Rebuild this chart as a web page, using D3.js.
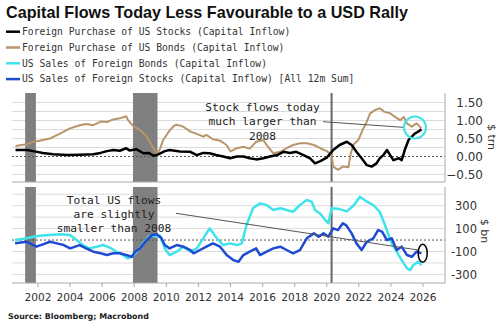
<!DOCTYPE html>
<html>
<head>
<meta charset="utf-8">
<script src="https://cdn.jsdelivr.net/npm/d3@7"></script>
<style>
  body { margin: 0; background: #fff; }
  svg { display: block; }
</style>
</head>
<body>
<div id="chart"></div>
<script>
// [decimal year, value]
const stocksIn = [[2000.6,0.18],[2001.3,0.18],[2001.7,0.15],[2002.3,0.1],[2002.95,0.06],[2003.8,0.04],[2004.6,0.05],[2005.45,0.06],[2005.9,0.1],[2006.3,0.15],[2006.7,0.18],[2007.1,0.16],[2007.5,0.23],[2007.7,0.17],[2008.15,0.2],[2008.57,0.09],[2008.9,0.1],[2009.2,0.02],[2009.5,0.06],[2009.9,0.15],[2010.2,0.18],[2010.85,0.14],[2011.5,0.13],[2011.9,0.04],[2012.3,0.1],[2012.7,0.09],[2013.1,0.04],[2013.55,0.0],[2013.97,-0.05],[2014.4,0.0],[2014.8,0.0],[2015.2,-0.05],[2015.6,-0.08],[2016.05,-0.05],[2016.46,0.0],[2016.9,0.04],[2017.3,0.13],[2017.7,0.1],[2018.1,0.13],[2018.55,0.04],[2018.96,-0.05],[2019.27,-0.19],[2019.6,-0.13],[2020.0,-0.03],[2020.4,0.18],[2020.8,0.32],[2021.25,0.41],[2021.55,0.32],[2021.85,0.13],[2022.17,-0.05],[2022.5,-0.24],[2022.8,-0.28],[2023.1,-0.19],[2023.3,-0.05],[2023.53,0.04],[2023.75,0.18],[2023.95,0.04],[2024.15,-0.1],[2024.5,-0.05],[2024.67,-0.1],[2024.9,0.23],[2025.1,0.46],[2025.3,0.55],[2025.5,0.64],[2025.7,0.69],[2025.9,0.76]];

const bondsIn = [[2000.6,0.29],[2001.3,0.34],[2001.7,0.41],[2002.1,0.44],[2002.75,0.5],[2003.4,0.64],[2004.0,0.78],[2004.6,0.87],[2005.0,0.9],[2005.45,0.87],[2005.9,0.97],[2006.3,0.96],[2006.7,1.03],[2007.1,1.06],[2007.5,1.12],[2007.6,1.02],[2007.95,0.84],[2008.36,0.74],[2008.78,0.55],[2009.2,0.23],[2009.4,0.06],[2009.6,0.2],[2009.8,0.46],[2010.2,0.72],[2010.5,0.86],[2010.65,0.88],[2011.05,0.83],[2011.5,0.69],[2011.9,0.63],[2012.3,0.55],[2012.5,0.6],[2012.9,0.48],[2013.35,0.44],[2013.75,0.32],[2014.0,0.14],[2014.4,0.23],[2014.8,0.27],[2015.2,0.22],[2015.6,0.41],[2016.05,0.46],[2016.25,0.32],[2016.67,0.09],[2017.1,0.13],[2017.5,0.23],[2017.9,0.32],[2018.33,0.37],[2018.75,0.37],[2019.2,0.32],[2019.6,0.23],[2020.0,0.15],[2020.3,0.04],[2020.4,-0.28],[2020.7,-0.37],[2021.0,-0.28],[2021.35,-0.3],[2021.5,0.1],[2021.7,0.35],[2021.97,0.46],[2022.28,0.78],[2022.5,0.97],[2022.7,1.2],[2023.0,1.29],[2023.3,1.34],[2023.6,1.24],[2023.95,1.2],[2024.25,1.1],[2024.57,1.01],[2024.8,1.1],[2025.0,0.92],[2025.3,0.83],[2025.6,0.92],[2025.8,0.83],[2025.9,0.78]];

const bondsOut = [[2000.57,0],[2001.3,15],[2001.7,29],[2002.1,38],[2002.75,44],[2003.4,50],[2004.0,44],[2004.4,0],[2004.8,-44],[2005.2,-73],[2005.66,-58],[2006.07,-44],[2006.5,-67],[2006.9,-102],[2007.3,-131],[2007.6,-160],[2007.85,-146],[2008.15,-102],[2008.57,-29],[2008.9,29],[2009.1,44],[2009.4,29],[2009.6,40],[2009.9,-73],[2010.2,-131],[2010.65,-102],[2011.06,-58],[2011.5,-102],[2011.9,-73],[2012.3,15],[2012.7,102],[2013.15,15],[2013.55,-44],[2013.97,-29],[2014.4,-44],[2014.7,-29],[2015.0,131],[2015.4,277],[2015.84,320],[2016.25,306],[2016.67,262],[2017.1,277],[2017.5,262],[2017.9,247],[2018.33,306],[2018.75,349],[2019.06,335],[2019.27,262],[2019.6,230],[2019.9,175],[2020.1,146],[2020.3,277],[2020.8,270],[2021.25,250],[2021.7,306],[2022.07,378],[2022.5,335],[2022.9,306],[2023.3,247],[2023.63,131],[2023.85,44],[2024.05,-29],[2024.36,-102],[2024.67,-175],[2025.0,-247],[2025.2,-262],[2025.4,-218],[2025.7,-189],[2025.9,-218]];

const stocksOut = [[2000.57,-29],[2001.3,-15],[2001.9,-58],[2002.3,-38],[2002.75,-15],[2003.17,-29],[2003.6,-44],[2004.0,-73],[2004.6,-44],[2005.0,-73],[2005.45,-102],[2005.9,-116],[2006.3,-131],[2006.7,-116],[2007.1,-116],[2007.5,-131],[2007.85,-146],[2008.05,-102],[2008.36,-73],[2008.78,0],[2009.1,44],[2009.4,50],[2009.7,15],[2009.9,-44],[2010.2,-73],[2010.65,-44],[2011.06,-58],[2011.5,-87],[2011.7,-116],[2012.1,-87],[2012.5,-58],[2012.9,-29],[2013.35,-58],[2013.76,-131],[2014.17,-175],[2014.5,-189],[2014.8,-131],[2015.2,-102],[2015.6,-73],[2015.84,-131],[2016.25,-102],[2016.67,-73],[2017.1,-58],[2017.5,-87],[2017.9,-116],[2018.33,-87],[2018.75,15],[2019.2,58],[2019.5,29],[2019.8,58],[2020.1,29],[2020.4,102],[2020.7,87],[2021.0,146],[2021.2,131],[2021.55,58],[2021.85,-29],[2022.17,-87],[2022.5,-15],[2022.9,15],[2023.2,87],[2023.45,73],[2023.75,0],[2024.05,15],[2024.36,-87],[2024.67,-58],[2025.0,-131],[2025.3,-146],[2025.6,-102],[2025.9,-116]];

const recessions = [[2001.2, 2001.87], [2007.92, 2009.45]];
const covidLine = 2020.3;

const xTicks = [2002, 2004, 2006, 2008, 2010, 2012, 2014, 2016, 2018, 2020, 2022, 2024, 2026];
const topTicks = [1.5, 1.0, 0.5, 0.0, -0.5];
const topGrid = [-0.5, -0.25, 0.25, 0.5, 0.75, 1.0, 1.25, 1.5];
const botTicks = [300, 100, -100, -300];
const botGrid = [-300, -200, -100, 100, 200, 300, 400];

const legendNames = [
  "Foreign Purchase of US Stocks (Capital Inflow)",
  "Foreign Purchase of US Bonds (Capital Inflow)",
  "US Sales of Foreign Bonds (Capital Inflow)",
  "US Sales of Foreign Stocks (Capital Inflow) [All 12m Sum]"
];
const colors = ["#000000", "#b8956a", "#3fe3ea", "#1f4bd3"];

const width = 500, height = 329;
const svg = d3.select("#chart").append("svg")
  .attr("width", width).attr("height", height);
svg.append("rect").attr("width", width).attr("height", height).attr("fill", "#fff");

const x = d3.scaleLinear().domain([2000.38, 2027.37]).range([12, 445]);
const yTop = d3.scaleLinear().domain([-0.708, 1.764]).range([182, 93]);
const yBot = d3.scaleLinear().domain([-375, 463]).range([283, 187]);

function fitWidth(sel, w) {
  let fs = parseFloat(sel.attr("font-size"));
  let len = sel.node().getComputedTextLength();
  sel.attr("font-size", (fs * w / len).toFixed(2));
}

// title
let title = svg.append("text")
  .attr("x", 6).attr("y", 17.5)
  .attr("font-family", "Liberation Sans, Arial, sans-serif")
  .attr("font-weight", "bold").attr("font-size", 14)
  .attr("fill", "#111")
  .text("Capital Flows Today Less Favourable to a USD Rally");
fitWidth(title, 402);

// legend
const legend = svg.append("g");
legendNames.forEach((name, i) => {
  let cy = 31.7 + i * 15.8;
  legend.append("line")
    .attr("x1", 6).attr("x2", 20).attr("y1", cy).attr("y2", cy)
    .attr("stroke", colors[i]).attr("stroke-width", 2.5);
  legend.append("text")
    .attr("x", 22).attr("y", cy).attr("dy", "0.35em")
    .attr("font-family", "DejaVu Sans Mono, monospace")
    .attr("font-size", 9.7).attr("fill", "#333")
    .text(name);
});

function panel(yScale, grid, zeroLine, top, bottom) {
  const g = svg.append("g");
  g.selectAll(".grid").data(grid).enter().append("line")
    .attr("x1", 12).attr("x2", 445)
    .attr("y1", d => yScale(d)).attr("y2", d => yScale(d))
    .attr("stroke", "#dcdcdc").attr("stroke-width", 1);
  g.selectAll(".rec").data(recessions).enter().append("rect")
    .attr("x", d => x(d[0])).attr("width", d => x(d[1]) - x(d[0]))
    .attr("y", top).attr("height", bottom - top)
    .attr("fill", "#808080");
  g.append("line")
    .attr("x1", x(covidLine)).attr("x2", x(covidLine))
    .attr("y1", top).attr("y2", bottom)
    .attr("stroke", "#666").attr("stroke-width", 2);
  g.append("line")
    .attr("x1", 12).attr("x2", 445)
    .attr("y1", yScale(0)).attr("y2", yScale(0))
    .attr("stroke", "#555").attr("stroke-width", 1)
    .attr("stroke-dasharray", "2,2");
  // frame: bottom and right
  g.append("line").attr("x1", 12).attr("x2", 445).attr("y1", bottom).attr("y2", bottom)
    .attr("stroke", "#aaa").attr("stroke-width", 1);
  g.append("line").attr("x1", 445).attr("x2", 445).attr("y1", top).attr("y2", bottom)
    .attr("stroke", "#aaa").attr("stroke-width", 1);
  return g;
}

const gTop = panel(yTop, topGrid, true, 93, 182);
const gBot = panel(yBot, botGrid, true, 187, 283);

const lineTop = d3.line().x(d => x(d[0])).y(d => yTop(d[1]));
const lineBot = d3.line().x(d => x(d[0])).y(d => yBot(d[1]));

gTop.append("path").datum(bondsIn).attr("d", lineTop)
  .attr("fill", "none").attr("stroke", colors[1]).attr("stroke-width", 2)
  .attr("stroke-linejoin", "round");
gTop.append("path").datum(stocksIn).attr("d", lineTop)
  .attr("fill", "none").attr("stroke", colors[0]).attr("stroke-width", 2.5)
  .attr("stroke-linejoin", "round");

gBot.append("path").datum(bondsOut).attr("d", lineBot)
  .attr("fill", "none").attr("stroke", colors[2]).attr("stroke-width", 2.5)
  .attr("stroke-linejoin", "round");
gBot.append("path").datum(stocksOut).attr("d", lineBot)
  .attr("fill", "none").attr("stroke", colors[3]).attr("stroke-width", 2.5)
  .attr("stroke-linejoin", "round");

// right axes
const fmt = d3.format(".2f");
svg.append("g").selectAll("text").data(topTicks).enter().append("text")
  .attr("x", 483).attr("y", d => yTop(d)).attr("dy", "0.36em")
  .attr("text-anchor", "end")
  .attr("font-family", "DejaVu Sans, Verdana, sans-serif")
  .attr("font-size", 12).attr("fill", "#333")
  .text(d => fmt(d));
svg.append("g").selectAll("text").data(botTicks).enter().append("text")
  .attr("x", 477).attr("y", d => yBot(d)).attr("dy", "0.36em")
  .attr("text-anchor", "end")
  .attr("font-family", "DejaVu Sans, Verdana, sans-serif")
  .attr("font-size", 11.5).attr("fill", "#333")
  .text(d => d);

svg.append("text")
  .attr("transform", "translate(488,137) rotate(90)")
  .attr("text-anchor", "middle")
  .attr("font-family", "DejaVu Sans, Verdana, sans-serif")
  .attr("font-size", 11).attr("fill", "#333")
  .text("$ trn");
svg.append("text")
  .attr("transform", "translate(481,231) rotate(90)")
  .attr("text-anchor", "middle")
  .attr("font-family", "DejaVu Sans, Verdana, sans-serif")
  .attr("font-size", 11).attr("fill", "#333")
  .text("$ bn");

// x axis
const xAxis = svg.append("g");
xAxis.selectAll("line").data(xTicks).enter().append("line")
  .attr("x1", d => x(d)).attr("x2", d => x(d))
  .attr("y1", 283).attr("y2", 287)
  .attr("stroke", "#aaa");
xAxis.selectAll("text").data(xTicks).enter().append("text")
  .attr("x", d => x(d)).attr("y", 301)
  .attr("text-anchor", "middle")
  .attr("font-family", "DejaVu Sans, Verdana, sans-serif")
  .attr("font-size", 10.6).attr("fill", "#333")
  .text(d => d);

// annotations
const annFont = "DejaVu Sans Mono, monospace";
const topNote = ["Stock flows today", "much larger than", "2008"];
svg.append("g").selectAll("text").data(topNote).enter().append("text")
  .attr("x", 262.5).attr("y", (d, i) => 111 + i * 14.4)
  .attr("text-anchor", "middle")
  .attr("font-family", annFont).attr("font-size", 11.2).attr("fill", "#222")
  .text(d => d);
svg.append("line")
  .attr("x1", 323).attr("y1", 121.7).attr("x2", 403).attr("y2", 127.3)
  .attr("stroke", "#555").attr("stroke-width", 1);
svg.append("circle")
  .attr("cx", 415).attr("cy", 127.5).attr("r", 11)
  .attr("fill", "none").attr("stroke", "#3fe3ea").attr("stroke-width", 2);

const botNote = ["Total US flows", "are slightly", "smaller than 2008"];
svg.append("g").selectAll("text").data(botNote).enter().append("text")
  .attr("x", 114).attr("y", (d, i) => 203.5 + i * 14.4)
  .attr("text-anchor", "middle")
  .attr("font-family", annFont).attr("font-size", 11.2).attr("fill", "#222")
  .text(d => d);
svg.append("line")
  .attr("x1", 176).attr("y1", 213.3).attr("x2", 418).attr("y2", 250)
  .attr("stroke", "#555").attr("stroke-width", 1);
svg.append("ellipse")
  .attr("cx", 422.7).attr("cy", 253.3).attr("rx", 4.5).attr("ry", 9)
  .attr("fill", "none").attr("stroke", "#000").attr("stroke-width", 1.5);

// source
let src = svg.append("text")
  .attr("x", 8).attr("y", 319)
  .attr("font-family", "DejaVu Sans, Verdana, sans-serif")
  .attr("font-weight", "bold").attr("font-size", 8)
  .attr("fill", "#222")
  .text("Source: Bloomberg; Macrobond");
fitWidth(src, 141);
</script>
</body>
</html>
